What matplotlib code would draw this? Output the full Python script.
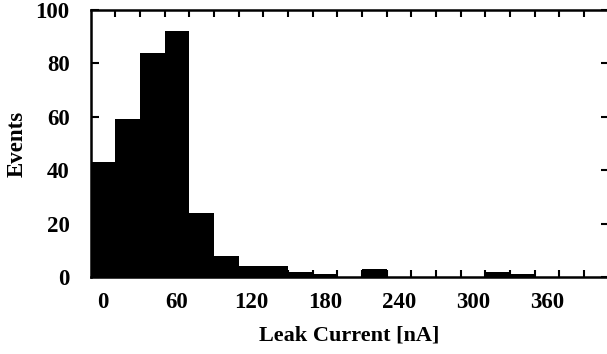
import matplotlib.pyplot as plt
import numpy as np

# histogram of leak current, 20 nA bins
bin_edges = np.arange(-10, 430, 20)
counts = [43, 59, 84, 92, 24, 8, 4, 4, 2, 1, 0, 3, 0, 0, 0, 0, 2, 1, 0, 0, 0]
xticks = [0, 60, 120, 180, 240, 300, 360]
yticks = [0, 20, 40, 60, 80, 100]

plt.rcParams['font.family'] = 'Liberation Serif'
plt.rcParams['font.weight'] = 'bold'

fig = plt.figure(figsize=(6.07, 3.54), dpi=100)
ax = fig.add_axes([90.5/607, 77/354, (608.5-90.5)/607, 267/354])

ax.stairs(counts, bin_edges, fill=True, color='black', linewidth=0)

ax.set_xlim(-10, 410)
ax.set_ylim(0, 100)

ax.set_xticks(xticks)
ax.set_xticks(np.arange(10, 400, 20), minor=True)
ax.set_yticks(yticks)

ax.tick_params(axis='x', which='major', length=0, pad=11, labelsize=16.5)
ax.tick_params(axis='x', which='minor', direction='in', length=5, width=1.5,
               top=True, bottom=True)
ax.tick_params(axis='y', direction='in', length=6, width=1.5, pad=15,
               labelsize=16.5, right=True)

for s in ax.spines.values():
    s.set_linewidth(1.8)

ax.set_xlabel('Leak Current [nA]', fontsize=16, fontweight='bold', labelpad=9)
ax.set_ylabel('Events', fontsize=16.5, fontweight='bold', labelpad=6)

fig.savefig('out.png', dpi=100)
